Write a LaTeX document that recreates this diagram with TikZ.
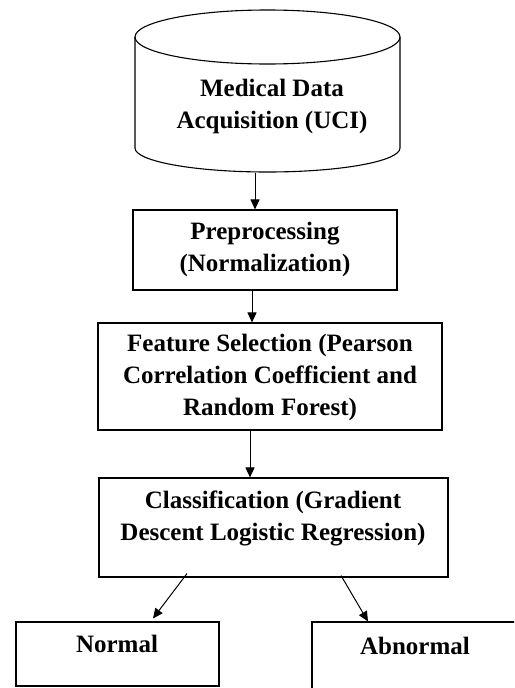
\documentclass[tikz,border=0pt]{standalone}
\usepackage{fontspec}
\setmainfont{Liberation Serif}
\usetikzlibrary{arrows.meta}
\begin{document}
\begin{tikzpicture}[x=1pt,y=-1pt,line width=1.1pt,
  box/.style={draw, rectangle, inner sep=0},
  txt/.style={font=\fontsize{25}{32}\selectfont\bfseries, align=center, inner sep=0},
  arr/.style={-{Triangle[length=10pt,width=9pt]}, line width=1pt}]
\useasboundingbox (0,0) rectangle (514,688);
\clip (0,0) rectangle (514,688);
% cylinder
\draw (267.5,37) ellipse[x radius=132.5, y radius=27];
\draw (135,37) -- (135,148) arc[start angle=180, end angle=0, x radius=132.5, y radius=24] -- (400,37);
\node[minimum width=265, minimum height=162, inner sep=0] (db) at (267.5,91) {};
\node[txt] (dbt) at (272,106) {Medical Data\\Acquisition (UCI)};
% boxes
\node[box, minimum width=264, minimum height=80] (pre) at (265,250) {};
\node[txt] (pret) at (265,249) {Preprocessing\\(Normalization)};
\node[box, minimum width=344, minimum height=107] (feat) at (270,376.5) {};
\node[txt] (featt) at (270,377) {Feature Selection (Pearson\\Correlation Coefficient and\\Random Forest)};
\node[box, minimum width=349, minimum height=99] (cls) at (273.5,527.5) {};
\node[txt] (clst) at (273,518) {Classification (Gradient\\Descent Logistic Regression)};
\node[box, minimum width=203, minimum height=64] (nor) at (117.5,654) {};
\node[txt] (nort) at (117,644) {Normal};
\node[box, minimum width=260, minimum height=100] (abn) at (442,672) {};
\node[txt] (abnt) at (415,646) {Abnormal};
% arrows
\draw[arr] ([xshift=-12.5pt]db.south) -- ([xshift=-12.5pt]db.south |- pre.north);
\draw[arr] ([xshift=-13pt]pre.south) -- ([xshift=-13pt]pre.south |- feat.north);
\draw[arr] ([xshift=-20pt]feat.south) -- ([xshift=-20pt]feat.south |- cls.north);
\draw[arr] ([xshift=-86.5pt,yshift=4pt]cls.south) -- ([xshift=35.5pt,yshift=3pt]nor.north);
\draw[arr] ([xshift=67.5pt,yshift=2pt]cls.south) -- ([xshift=-74pt]abn.north);
\end{tikzpicture}
\end{document}
